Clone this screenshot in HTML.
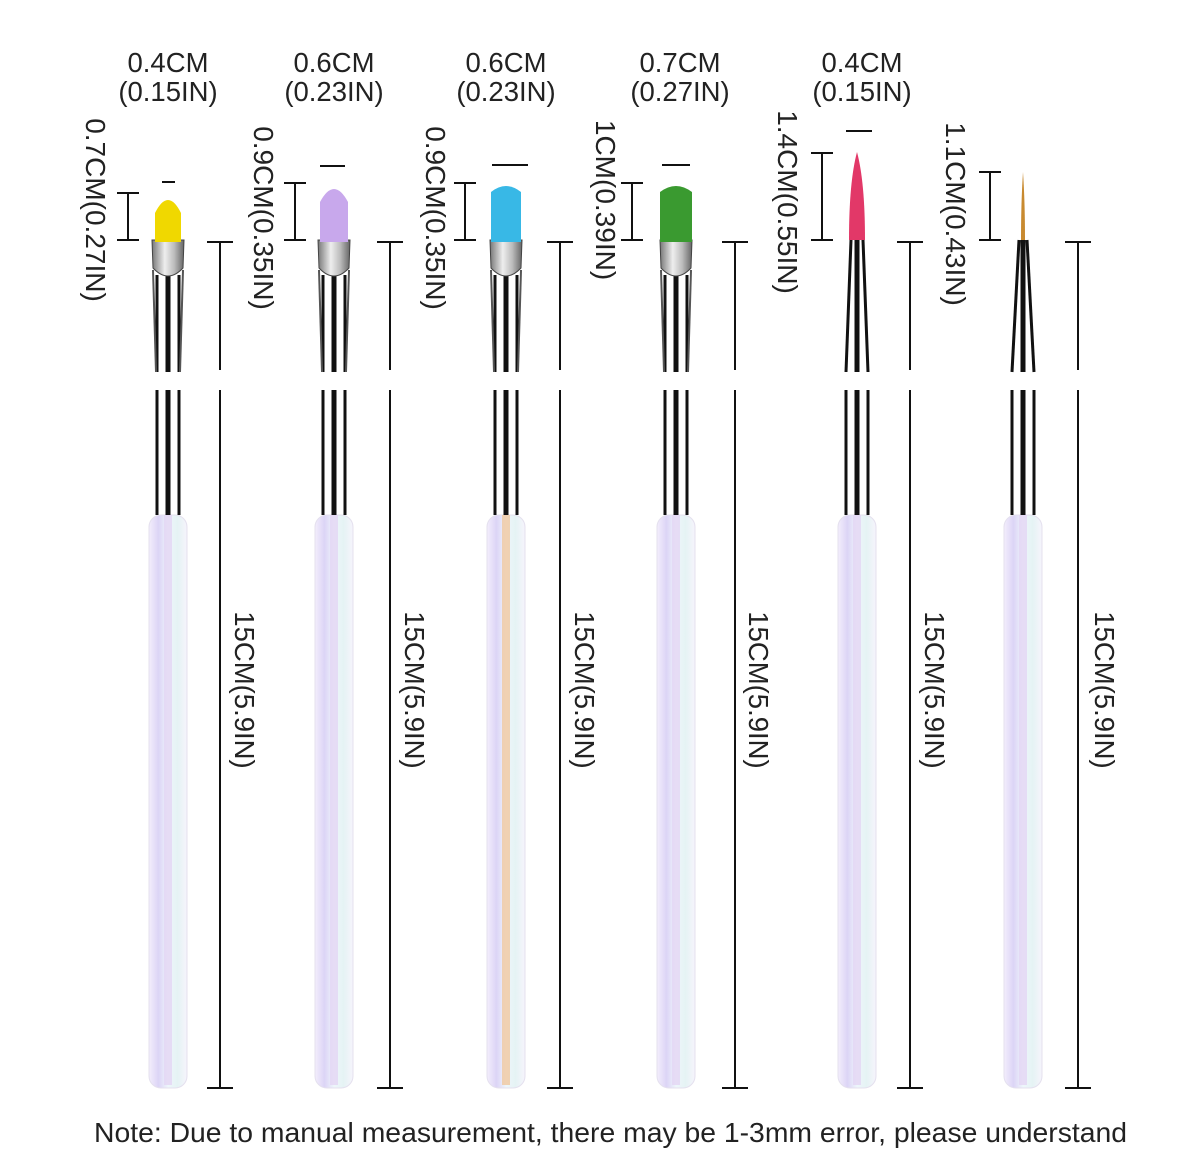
<!DOCTYPE html>
<html><head><meta charset="utf-8"><style>
html,body{margin:0;padding:0;background:#fff;}
svg{display:block;}
text{font-family:"Liberation Sans",sans-serif;fill:#222;}
</style></head><body>
<svg id="s" width="1200" height="1167" viewBox="0 0 1200 1167" xmlns="http://www.w3.org/2000/svg">
<defs>
<linearGradient id="h" x1="0" x2="1" y1="0" y2="0">
<stop offset="0" stop-color="#f3eefc"/><stop offset="0.25" stop-color="#dcd4f6"/><stop offset="0.5" stop-color="#eef6fb"/><stop offset="0.75" stop-color="#e5f3f4"/><stop offset="1" stop-color="#f6f4fc"/>
</linearGradient>
<linearGradient id="sil" x1="0" x2="1"><stop offset="0" stop-color="#777"/><stop offset="0.4" stop-color="#eee"/><stop offset="0.7" stop-color="#bbb"/><stop offset="1" stop-color="#666"/></linearGradient>
</defs>
<g id="g"></g>
<g font-size="27.5" text-anchor="middle">
<text x="168" y="72">0.4CM</text><text x="168" y="101">(0.15IN)</text>
<text x="334" y="72">0.6CM</text><text x="334" y="101">(0.23IN)</text>
<text x="506" y="72">0.6CM</text><text x="506" y="101">(0.23IN)</text>
<text x="680" y="72">0.7CM</text><text x="680" y="101">(0.27IN)</text>
<text x="862" y="72">0.4CM</text><text x="862" y="101">(0.15IN)</text>
</g>
<g font-size="28" text-anchor="middle">
<text transform="translate(86,210) rotate(90)">0.7CM(0.27IN)</text>
<text transform="translate(254,218) rotate(90)">0.9CM(0.35IN)</text>
<text transform="translate(426,218) rotate(90)">0.9CM(0.35IN)</text>
<text transform="translate(596,200) rotate(90)">1CM(0.39IN)</text>
<text transform="translate(778,202) rotate(90)">1.4CM(0.55IN)</text>
<text transform="translate(946,214) rotate(90)">1.1CM(0.43IN)</text>
</g>
<g font-size="27.5" text-anchor="middle">
<text transform="translate(235,690) rotate(90)">15CM(5.9IN)</text>
<text transform="translate(405,690) rotate(90)">15CM(5.9IN)</text>
<text transform="translate(575,690) rotate(90)">15CM(5.9IN)</text>
<text transform="translate(749,690) rotate(90)">15CM(5.9IN)</text>
<text transform="translate(925,690) rotate(90)">15CM(5.9IN)</text>
<text transform="translate(1095,690) rotate(90)">15CM(5.9IN)</text>
</g>
<text x="94" y="1142" font-size="28" textLength="1033" lengthAdjust="spacingAndGlyphs">Note: Due to manual measurement, there may be 1-3mm error, please understand</text>
</svg>
<script>
var g=document.getElementById('g'),o='';
function L(x1,y1,x2,y2,w,c){o+='<line x1="'+x1+'" y1="'+y1+'" x2="'+x2+'" y2="'+y2+'" stroke="'+(c||'#111')+'" stroke-width="'+(w||2)+'"/>';}
var B=[
{cx:168,t:195,col:'#f0d800',w:26,type:'r',bx:128,bt:193,dash:[162,175,182],lx:220},
{cx:334,t:184,col:'#c8a8ec',w:28,type:'r',bx:295,bt:183,dash:[320,345,166],lx:390},
{cx:506,t:184,col:'#38b8e6',w:30,type:'f',bx:465,bt:183,dash:[492,528,165],lx:560},
{cx:676,t:184,col:'#3a9a30',w:32,type:'f',bx:632,bt:183,dash:[662,690,165],lx:735},
{cx:857,t:152,col:'#e23868',w:16,type:'p',tp:10,bx:822,bt:153,dash:[846,872,131],lx:910},
{cx:1023,t:172,col:'#c88a30',w:4,type:'p',tp:8,bx:990,bt:172,dash:null,lx:1078}];
B.forEach(function(b){
 var c=b.cx;
 o+='<rect x="'+(c-19)+'" y="515" width="38" height="573" rx="12" fill="url(#h)" stroke="#e4e0ee"/>';
 o+='<rect x="'+(c-4)+'" y="515" width="8" height="570" fill="'+(b.cx==506?'#f0c8a0':'#e4d6f4')+'" opacity="0.8"/>';
 var top=b.type=='p'?b.tp:15;
 [-1,0,1].forEach(function(s){
   var xt=c+s*(top-4), xb=c+s*11;
   var w=s==0?5:3;
   L(xt,b.type=='p'?240:275,xb,372,w);L(c+s*11,390,c+s*11,515,w);
 });
 if(b.type!='p'){
   o+='<path d="M'+(c-16)+' 240 L'+(c+16)+' 240 L'+(c+15)+' 268 Q'+c+' 284 '+(c-15)+' 268 Z" fill="url(#sil)" stroke="#444"/>';
   L(c-15,270,c-12,372,2,'#555');L(c+15,270,c+12,372,2,'#555');
 }
 var w=b.w/2;
 if(b.type=='r') o+='<path d="M'+(c-w)+' 242 L'+(c-w)+' '+(b.t+18)+' Q'+c+' '+(b.t-8)+' '+(c+w)+' '+(b.t+18)+' L'+(c+w)+' 242 Z" fill="'+b.col+'"/>';
 else if(b.type=='f') o+='<path d="M'+(c-w)+' 242 L'+(c-w)+' '+(b.t+8)+' Q'+c+' '+(b.t-4)+' '+(c+w)+' '+(b.t+8)+' L'+(c+w)+' 242 Z" fill="'+b.col+'"/>';
 else o+='<path d="M'+(c-w)+' 240 Q'+(c-w)+' '+(b.t+30)+' '+c+' '+b.t+' Q'+(c+w)+' '+(b.t+30)+' '+(c+w)+' 240 Z" fill="'+b.col+'"/>';
 L(b.bx,b.bt,b.bx,240);L(b.bx-11,b.bt,b.bx+11,b.bt);L(b.bx-11,240,b.bx+11,240);
 if(b.dash)L(b.dash[0],b.dash[2],b.dash[1],b.dash[2]);
 var x=b.lx;L(x,242,x,370);L(x,390,x,1088);L(x-13,242,x+13,242);L(x-13,1088,x+13,1088);
});
g.innerHTML=o;
</script>
</body></html>
